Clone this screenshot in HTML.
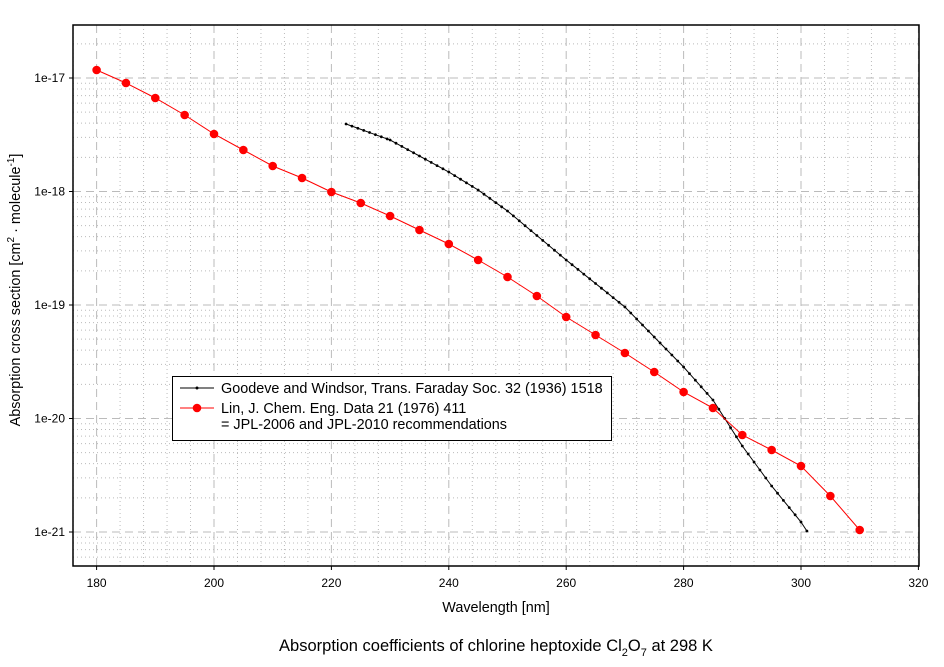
<!DOCTYPE html>
<html><head><meta charset="utf-8"><style>
body{margin:0;background:#fff;}
svg text{font-family:"Liberation Sans",Arial,sans-serif;fill:#000;}
</style></head><body>
<svg id="s" width="944" height="662" xmlns="http://www.w3.org/2000/svg"></svg>
<script>
const s=document.getElementById('s');
const X=n=>96.6+(n-180)*5.87;
const Y=v=>78+(-17-Math.log10(v))*113.5;
let h='';
const L=73,R=919,T=25,B=566;
for(let n=172;n<=320;n+=4){const x=X(n);if(x<=L||x>=R)continue;if((n-180)%20==0)continue;
h+=`<line x1="${x}" y1="${T}" x2="${x}" y2="${B}" stroke="#bbb" stroke-dasharray="1,3"/>`;}
for(let e=-22;e<=-16;e++)for(let m=2;m<=9;m++){const y=Y(m*Math.pow(10,e));if(y<=T||y>=B)continue;
h+=`<line x1="${L}" y1="${y}" x2="${R}" y2="${y}" stroke="#bbb" stroke-dasharray="1,3"/>`;}
for(let n=180;n<=320;n+=20){const x=X(n);
h+=`<line x1="${x}" y1="${T}" x2="${x}" y2="${B}" stroke="#bbb" stroke-dasharray="8,5"/>`;
h+=`<line x1="${x}" y1="${B}" x2="${x}" y2="${B+4}" stroke="#000"/>`;
h+=`<text x="${x}" y="${B+21}" font-size="12" text-anchor="middle">${n}</text>`;}
const lab=['1e-17','1e-18','1e-19','1e-20','1e-21'];
for(let i=0;i<5;i++){const y=78+i*113.5;
h+=`<line x1="${L}" y1="${y}" x2="${R}" y2="${y}" stroke="#bbb" stroke-dasharray="8,5"/>`;
h+=`<line x1="${L-4}" y1="${y}" x2="${L}" y2="${y}" stroke="#000"/>`;
h+=`<text x="${L-8}" y="${y+4}" font-size="12" text-anchor="end">${lab[i]}</text>`;}
h+=`<rect x="${L}" y="${T}" width="${R-L}" height="${B-T}" fill="none" stroke="#000" stroke-width="1.5"/>`;
const bk=[[222.5,124],[230,140],[240,172],[245,190],[250,211],[260,260],[270,307],[280,367],[285,400],[290,446],[295,486],[300,522],[301,531]];
let bp=[];
for(let i=0;i<bk.length-1;i++){const [a,ya]=bk[i],[b,yb]=bk[i+1];for(let n=a;n<b;n+=1){bp.push([X(n),ya+(yb-ya)*(n-a)/(b-a)]);}}
bp.push([X(301),531]);
h+=`<polyline points="${bp.map(p=>p.join(',')).join(' ')}" fill="none" stroke="#000" stroke-width="1"/>`;
bp.forEach(p=>h+=`<circle cx="${p[0]}" cy="${p[1]}" r="1.4" fill="#000"/>`);
const ry=[70,83,98,115,134,150,166,178,192,203,216,230,244,260,277,296,317,335,353,372,392,408,435,450,466,496,530];
const rp=ry.map((y,i)=>[X(180+5*i),y]);
h+=`<polyline points="${rp.map(p=>p.join(',')).join(' ')}" fill="none" stroke="#f00" stroke-width="1"/>`;
rp.forEach(p=>h+=`<circle cx="${p[0]}" cy="${p[1]}" r="4.3" fill="#f00"/>`);
h+=`<rect x="172.5" y="376.5" width="439" height="64" fill="#fff" stroke="#000"/>`;
h+=`<line x1="180" y1="388" x2="214" y2="388" stroke="#000"/><circle cx="197" cy="388" r="1.5"/>`;
h+=`<text x="221" y="393" font-size="14.4">Goodeve and Windsor, Trans. Faraday Soc. 32 (1936) 1518</text>`;
h+=`<line x1="180" y1="408" x2="214" y2="408" stroke="#f00"/><circle cx="197" cy="408" r="4.3" fill="#f00"/>`;
h+=`<text x="221" y="413" font-size="14.4">Lin, J. Chem. Eng. Data 21 (1976) 411</text>`;
h+=`<text x="221" y="429" font-size="14.4">= JPL-2006 and JPL-2010 recommendations</text>`;
h+=`<text x="496" y="612" font-size="14.4" text-anchor="middle">Wavelength [nm]</text>`;
h+=`<text transform="translate(20,290) rotate(-90)" font-size="14.4" text-anchor="middle">Absorption cross section [cm<tspan font-size="10" dy="-6">2</tspan><tspan dy="6"> · molecule</tspan><tspan font-size="10" dy="-6">-1</tspan><tspan dy="6">]</tspan></text>`;
h+=`<text x="496" y="651" font-size="16.5" text-anchor="middle">Absorption coefficients of chlorine heptoxide Cl<tspan font-size="11" dy="5">2</tspan><tspan dy="-5">O</tspan><tspan font-size="11" dy="5">7</tspan><tspan dy="-5"> at 298 K</tspan></text>`;
s.innerHTML=h;
</script>
</body></html>
